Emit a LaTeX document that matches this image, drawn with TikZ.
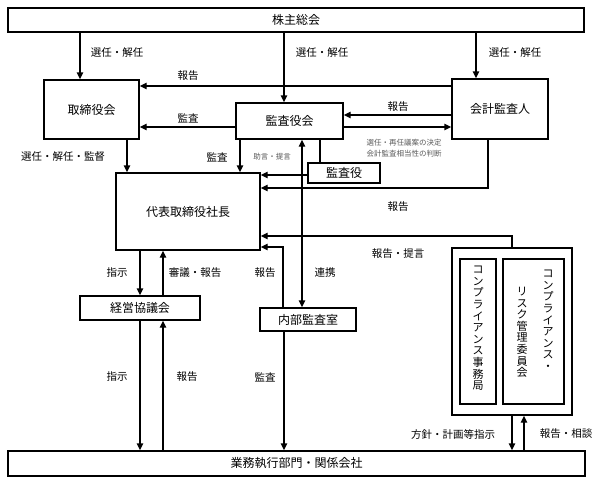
\documentclass[tikz,border=0pt]{standalone}
\usepackage{fontspec}
\setmainfont{Noto Sans CJK JP}
\usetikzlibrary{arrows.meta}
\tikzset{
  box/.style={draw, line width=1.4pt, inner sep=0pt, font=\fontsize{12}{14}\selectfont},
  lbl/.style={inner sep=0pt, font=\fontsize{10.5}{12}\selectfont},
  sml/.style={inner sep=0pt, text=black!65, align=center, font=\fontsize{7.5}{12}\selectfont},
  vcol/.style={inner sep=0pt, align=center, anchor=north, font=\fontsize{11}{11.6}\selectfont},
  ln/.style={line width=1.4pt},
  arr/.style={ln, -{Triangle[length=7pt,width=6.5pt]}},
  arrb/.style={ln, {Triangle[length=7pt,width=6.5pt]}-{Triangle[length=7pt,width=6.5pt]}}
}
\begin{document}
\begin{tikzpicture}[x=1pt,y=-1pt]
\useasboundingbox (0,0) rectangle (598,483);
% boxes
\node[box, minimum width=576pt, minimum height=24pt] (kabu) at (296,20) {株主総会};
\node[box, minimum width=95pt, minimum height=59pt] (tori) at (91.5,109.5) {取締役会};
\node[box, minimum width=107pt, minimum height=36pt] (kansa) at (289.5,121) {監査役会};
\node[box, minimum width=96pt, minimum height=60pt] (kaikei) at (500,109) {会計監査人};
\node[box, minimum width=144pt, minimum height=77pt] (daihyo) at (188,211.5) {代表取締役社長};
\node[box, minimum width=72pt, minimum height=20pt] (kansayaku) at (344,173) {監査役};
\node[box, minimum width=120pt, minimum height=24pt] (keiei) at (140,308) {経営協議会};
\node[box, minimum width=96pt, minimum height=23pt] (naibu) at (308,319.5) {内部監査室};
\node[box, minimum width=577pt, minimum height=25pt] (gyomu) at (296.5,463.5) {業務執行部門・関係会社};
\node[box, minimum width=120pt, minimum height=167pt] (comp) at (512,331.5) {};
\node[box, minimum width=36pt, minimum height=145pt] (comp1) at (478,331.5) {};
\node[box, minimum width=61pt, minimum height=145pt] (comp2) at (533.5,331.5) {};
% vertical texts
\node[vcol] (v1) at (478,266) {コ\\ン\\プ\\ラ\\イ\\ア\\ン\\ス\\事\\務\\局};
\node[vcol] (v2) at (548,270) {コ\\ン\\プ\\ラ\\イ\\ア\\ン\\ス\\・};
\node[vcol] (v3) at (522,287) {リ\\ス\\ク\\管\\理\\委\\員\\会};
% connectors
\draw[arr] (kabu.south -| 80,0) -- (tori.north -| 80,0);
\draw[arr] (kabu.south -| 284,0) -- (kansa.north -| 284,0);
\draw[arr] (kabu.south -| 476,0) -- (kaikei.north -| 476,0);
\draw[arr] (kaikei.west |- 0,86) -- (tori.east |- 0,86);
\draw[arr] (kansa.west |- 0,127) -- (tori.east |- 0,127);
\draw[arr] (kaikei.west |- 0,115) -- (kansa.east |- 0,115);
\draw[arr] (kansa.east |- 0,127) -- (kaikei.west |- 0,127);
\draw[arr] (tori.south -| 127,0) -- (daihyo.north -| 127,0);
\draw[arr] (kansa.south -| 240,0) -- (daihyo.north -| 240,0);
\draw[ln] (kansa.south -| 320,0) -- (kansayaku.north -| 320,0);
\draw[arr] (kansayaku.west |- 0,175) -- (daihyo.east |- 0,175);
\draw[arr] (kaikei.south -| 488,0) |- (daihyo.east |- 0,188);
\draw[arr] (comp.north -| 512,0) |- (daihyo.east |- 0,236);
\draw[arr] (naibu.north -| 283,0) |- (daihyo.east |- 0,247);
\draw[arrb] (kansa.south -| 302,0) -- (naibu.north -| 302,0);
\draw[arr] (daihyo.south -| 140,0) -- (keiei.north -| 140,0);
\draw[arr] (keiei.north -| 163,0) -- (daihyo.south -| 163,0);
\draw[arr] (keiei.south -| 140,0) -- (gyomu.north -| 140,0);
\draw[arr] (gyomu.north -| 163,0) -- (keiei.south -| 163,0);
\draw[arr] (naibu.south -| 284,0) -- (gyomu.north -| 284,0);
\draw[arr] (comp.south -| 512,0) -- (gyomu.north -| 512,0);
\draw[arr] (gyomu.north -| 524,0) -- (comp.south -| 524,0);
% labels
\node[lbl] (t1) at (117,53) {選任・解任};
\node[lbl] (t2) at (322,53) {選任・解任};
\node[lbl] (t3) at (515,53) {選任・解任};
\node[lbl] (t4) at (188,76) {報告};
\node[lbl] (t5) at (188,118) {監査};
\node[lbl] (t6) at (398,107) {報告};
\node[sml] (t7) at (404,148) {選任・再任議案の決定\\[-0.5pt]会計監査相当性の判断};
\node[lbl] (t8) at (63,157) {選任・解任・監督};
\node[lbl] (t9) at (217,157) {監査};
\node[sml] (t10) at (272,157) {助言・提言};
\node[lbl] (t11) at (398,207) {報告};
\node[lbl] (t12) at (398,254) {報告・提言};
\node[lbl] (t13) at (325,273) {連携};
\node[lbl] (t14) at (117,273) {指示};
\node[lbl] (t15) at (195,273) {審議・報告};
\node[lbl] (t16) at (265,273) {報告};
\node[lbl] (t17) at (117,377) {指示};
\node[lbl] (t18) at (187,377) {報告};
\node[lbl] (t19) at (265,377) {監査};
\node[lbl] (t20) at (453,434) {方針・計画等指示};
\node[lbl] (t21) at (566,434) {報告・相談};
\end{tikzpicture}
\end{document}
